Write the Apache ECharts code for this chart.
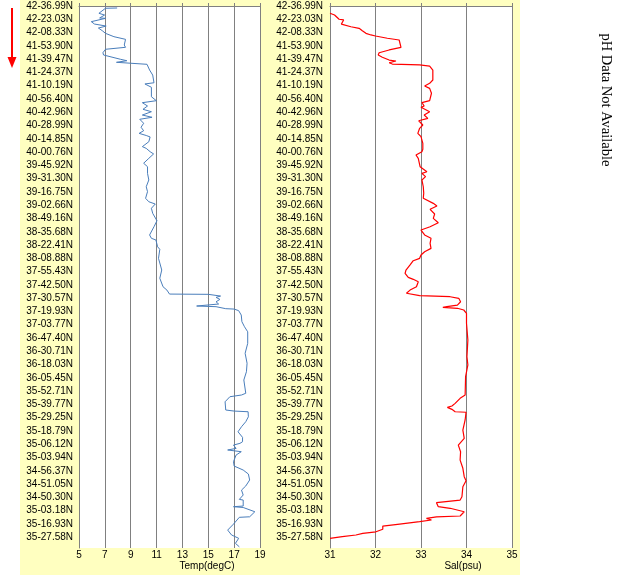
<!DOCTYPE html>
<html><head><meta charset="utf-8">
<script src="https://cdn.jsdelivr.net/npm/echarts@6/dist/echarts.min.js"></script>
<style>html,body{margin:0;padding:0;background:#fff}#c{width:626px;height:575px}</style>
</head><body><div id="c"></div>
<script>
const latLabels = ['42-36.99N','42-23.03N','42-08.33N','41-53.90N','41-39.47N','41-24.37N','41-10.19N','40-56.40N','40-42.96N','40-28.99N','40-14.85N','40-00.76N','39-45.92N','39-31.30N','39-16.75N','39-02.66N','38-49.16N','38-35.68N','38-22.41N','38-08.88N','37-55.43N','37-42.50N','37-30.57N','37-19.93N','37-03.77N','36-47.40N','36-30.71N','36-18.03N','36-05.45N','35-52.71N','35-39.77N','35-29.25N','35-18.79N','35-06.12N','35-03.94N','34-56.37N','34-51.05N','34-50.30N','35-03.18N','35-16.93N','35-27.58N'];
const tempTicks = [5,7,9,11,13,15,17,19];
const salTicks = [31,32,33,34,35];
// position along the track, in units of latitude-label rows (0 = first label)
const tempPos = [0.15,0.17,0.55,0.68,0.90,0.93,1.18,1.36,1.51,1.66,1.86,2.06,2.31,2.51,2.94,3.11,3.26,3.52,3.69,3.82,4.01,4.12,4.24,4.31,4.39,4.82,5.20,5.78,5.87,6.12,6.83,7.13,7.28,7.53,7.78,7.96,8.21,8.38,8.53,8.83,9.13,9.39,9.59,9.75,9.86,10.22,10.59,10.72,10.97,11.14,11.47,11.84,12.10,12.60,13.10,13.61,13.98,14.48,14.61,14.74,14.91,15.23,15.61,16.17,16.62,17.24,17.49,17.62,18.13,18.32,19.00,19.88,20.50,21.14,21.39,21.69,21.71,21.84,21.94,22.09,22.27,22.44,22.59,22.64,22.79,22.82,22.94,23.27,23.77,24.15,24.53,25.40,26.15,26.90,27.54,28.16,29.16,29.29,29.42,29.80,30.42,30.50,30.55,30.93,31.30,31.68,32.06,32.48,32.81,32.93,33.06,33.31,33.43,33.56,33.81,34.31,34.64,34.94,35.24,35.69,36.14,36.45,36.82,37.15,37.20,37.65,37.70,37.76,38.08,38.46,38.50,39.01,39.46,39.83,40.08,40.46,40.72];
const tempVal = [7.95,7.05,6.54,6.98,6.6,7.05,5.95,6.2,7.1,6.5,6.8,7.05,7.7,8.6,8.5,8.6,7.05,6.85,6.9,7.05,8.2,8.7,7.9,9.0,10.26,10.46,10.7,10.8,10.1,10.6,10.6,10.98,9.9,10.3,9.95,10.6,9.9,10.65,9.7,10.0,9.8,10.0,9.65,10.2,10.5,10.4,9.9,10.2,10.5,10.77,10.4,10.0,10.3,10.3,10.4,10.2,10.3,10.15,10.1,10.4,10.9,10.6,10.7,11.03,10.8,10.46,10.6,10.95,11.08,11.25,11.15,11.4,11.25,11.5,11.8,12.0,15.0,15.95,15.6,15.9,15.6,15.8,14.1,15.6,16.35,17.0,17.35,17.55,17.6,17.8,18.05,18.05,17.85,18.0,17.95,17.75,17.9,17.57,16.67,16.3,16.35,17.0,18.08,18.1,17.9,17.57,17.3,17.65,17.65,17.45,16.95,17.15,16.5,17.55,17.15,16.95,17.0,17.7,18.1,18.2,17.9,17.57,17.7,17.4,17.7,17.7,16.95,17.7,18.6,18.2,17.4,16.95,16.5,16.8,17.35,17.1,17.4];
const salPos = [0.55,0.68,1.00,1.05,1.36,1.56,1.68,1.86,2.06,2.18,2.26,2.43,2.56,3.11,3.31,3.52,3.69,3.86,4.07,4.14,4.27,4.37,4.44,4.52,4.82,5.57,5.82,6.02,6.20,6.57,7.13,7.28,7.53,7.63,7.96,8.21,8.46,8.64,8.96,9.21,9.59,9.84,10.34,10.79,10.97,11.22,11.47,12.10,12.48,12.60,12.85,13.10,13.61,14.10,14.48,14.86,15.06,15.31,15.66,15.99,16.32,16.62,16.87,17.24,17.49,17.87,18.25,18.50,18.75,19.00,19.18,19.50,19.88,20.13,20.43,20.58,20.76,21.14,21.39,21.63,21.76,21.81,21.89,22.01,22.27,22.52,22.64,22.69,22.76,22.89,23.14,23.89,25.15,26.41,27.03,27.91,29.29,29.54,29.92,30.12,30.22,30.37,30.55,30.59,31.17,31.93,32.55,33.06,33.56,34.19,34.81,35.44,35.75,36.20,36.95,37.20,37.40,37.70,37.82,38.08,38.40,38.46,38.58,38.70,38.83,39.01,39.16,39.40,39.59,39.71,39.83,39.96,40.08];
const salVal = [31.0,31.1,31.2,31.3,31.25,31.46,31.64,31.71,31.79,31.9,32.0,32.26,32.52,32.56,32.3,32.08,32.06,32.15,32.3,32.45,32.3,32.37,32.97,33.19,33.26,33.26,33.19,33.08,33.19,33.23,33.19,33.02,33.07,33.0,33.19,33.07,33.15,32.95,33.04,32.97,32.93,33.0,33.04,33.04,33.02,32.89,32.94,32.98,33.13,33.02,33.1,33.02,33.05,33.06,33.05,33.27,33.35,33.2,33.3,33.27,33.38,33.2,33.0,33.08,33.22,33.2,33.22,33.08,33.0,32.97,32.83,32.76,32.67,32.65,32.72,32.83,32.94,32.9,32.76,32.68,32.72,32.97,33.64,33.83,33.87,33.8,33.57,33.48,33.8,33.94,34.0,34.0,34.03,34.01,34.03,33.98,33.97,33.86,33.75,33.68,33.58,33.68,33.75,33.99,33.97,33.92,33.95,33.82,33.87,33.86,33.92,33.95,33.99,33.92,33.9,33.86,33.34,33.38,33.64,33.95,33.86,33.34,33.12,33.23,32.97,32.53,32.16,32.16,32.01,31.72,31.57,31.27,31.0];
const posMax = 40.81;

const chart = echarts.init(document.getElementById('c'), null, {renderer:'canvas'});
const GRID = '#808080';
const FONT = "'Liberation Sans', Arial, sans-serif";
function latFmt(v){ const i = Math.round(v); return (Math.abs(v-i) < 1e-6 && i >= 0 && i < latLabels.length) ? latLabels[i] : ''; }
function yAx(grid, fontSize, fam, margin){
  return {type:'value', gridIndex:grid, inverse:true, min:0, max:posMax, interval:1,
    axisLine:{show:true, lineStyle:{color:GRID, width:1}}, axisTick:{show:false}, splitLine:{show:false},
    axisLabel:{formatter:latFmt, fontSize:fontSize, fontFamily:fam, color:'#000', margin:margin, showMaxLabel:false}};
}
function xBottom(grid, ticks){
  return {type:'value', gridIndex:grid, position:'bottom', min:ticks[0], max:ticks[ticks.length-1], interval:ticks[1]-ticks[0],
    axisLine:{show:false}, axisTick:{show:false},
    splitLine:{show:true, lineStyle:{color:GRID, width:1}},
    axisLabel:{fontSize:10, fontFamily:FONT, color:'#000', margin:2}};
}
function xTop(grid, ticks){
  return {type:'value', gridIndex:grid, position:'top', min:ticks[0], max:ticks[ticks.length-1], interval:ticks[1]-ticks[0],
    axisLine:{show:true, lineStyle:{color:GRID, width:1}}, axisTick:{show:true, length:3, lineStyle:{color:GRID}},
    splitLine:{show:false}, axisLabel:{show:false}};
}
chart.setOption({
  backgroundColor:'#ffffff',
  animation:false,
  grid:[
    {left:79, top:6, width:181, height:542, show:true, backgroundColor:'#ffffff', borderWidth:0},
    {left:330, top:6, width:182, height:542, show:true, backgroundColor:'#ffffff', borderWidth:0}
  ],
  xAxis:[xBottom(0,tempTicks), xTop(0,tempTicks), xBottom(1,salTicks), xTop(1,salTicks)],
  yAxis:[yAx(0,10,FONT,6), yAx(1,10,"'Liberation Sans Narrow', 'Liberation Sans', Arial, sans-serif",7)],
  series:[
    {type:'line', xAxisIndex:0, yAxisIndex:0, showSymbol:false, symbol:'none', clip:false,
      lineStyle:{color:'#4A7EBB', width:1}, data: tempPos.map((p,i)=>[tempVal[i], p])},
    {type:'line', xAxisIndex:2, yAxisIndex:1, showSymbol:false, symbol:'none', clip:false,
      lineStyle:{color:'#FF0000', width:1.2}, data: salPos.map((p,i)=>[salVal[i], p])}
  ],
  graphic:[
    {type:'rect', z:-10, shape:{x:20, y:0, width:500, height:575}, style:{fill:'#FFFFC0'}, silent:true},
    {type:'line', shape:{x1:12, y1:8, x2:12, y2:60}, style:{stroke:'#FF0000', lineWidth:2}},
    {type:'polygon', shape:{points:[[7.5,57],[16.5,57],[12,68]]}, style:{fill:'#FF0000'}},
    {type:'text', x:207, y:566, style:{text:'Temp(degC)', font:"10px 'Liberation Sans', Arial, sans-serif", fill:'#000', align:'center', verticalAlign:'middle'}},
    {type:'text', x:463, y:566, style:{text:'Sal(psu)', font:"10px 'Liberation Sans', Arial, sans-serif", fill:'#000', align:'center', verticalAlign:'middle'}},
    {type:'text', x:606, y:100, rotation:-Math.PI/2, style:{text:'pH Data Not Available', font:"14.5px 'Liberation Serif', 'Times New Roman', serif", fill:'#000', align:'center', verticalAlign:'middle'}}
  ]
});
</script></body></html>
